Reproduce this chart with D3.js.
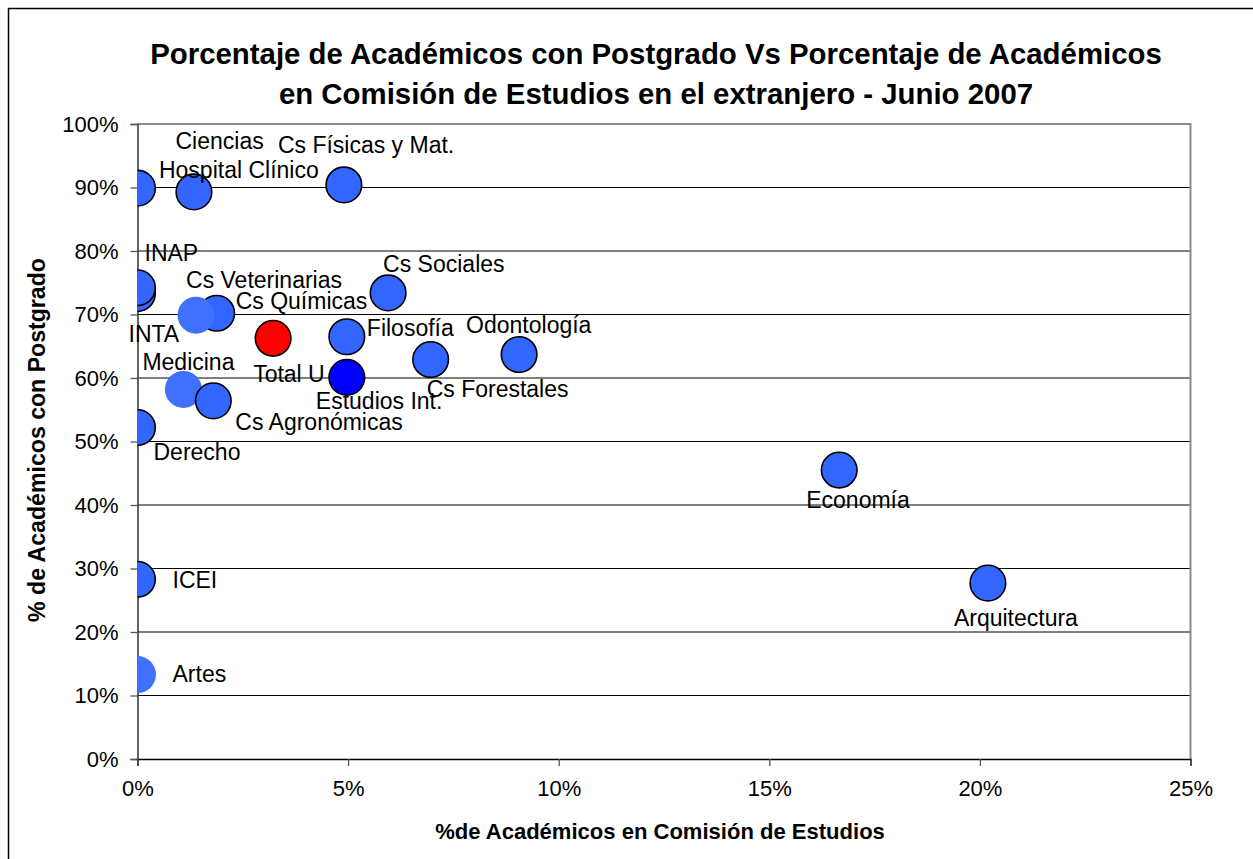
<!DOCTYPE html>
<html><head><meta charset="utf-8">
<script src="https://cdn.jsdelivr.net/npm/d3@7"></script>
<style>
body{margin:0;background:#fff;}
text{font-family:"Liberation Sans",Arial,sans-serif;fill:#000;}
</style>
</head><body>
<svg id="c" width="1253" height="859"></svg>
<script>
// ---------------- DATA ----------------
const names = ["Ciencias","Hospital Clínico","Cs Físicas y Mat.","INTA","INAP","Cs Químicas","Cs Veterinarias",
  "Cs Sociales","Total U","Filosofía","Estudios Int.","Medicina","Cs Agronómicas","Derecho","Cs Forestales",
  "Odontología","Economía","Arquitectura","ICEI","Artes"];
const comisionPct = [0, 0.0134, 0.0490, 0, 0, 0.0188, 0.0139, 0.0595, 0.0322, 0.0497, 0.0497, 0.0109, 0.0180, 0,
  0.0696, 0.0906, 0.1666, 0.2019, 0, 0];
const postgradoPct = [0.899, 0.893, 0.904, 0.733, 0.742, 0.702, 0.699, 0.734, 0.6625, 0.665, 0.601, 0.582, 0.564, 0.522,
  0.629, 0.637, 0.455, 0.277, 0.283, 0.133];
const pointKind = ["u","u","u","u","u","u","light","u","total","u","int","light","u","u","u","u","u","u","u","light"];
const xTickValues = [0, 0.05, 0.10, 0.15, 0.20, 0.25];
const yTickValues = [0, 0.1, 0.2, 0.3, 0.4, 0.5, 0.6, 0.7, 0.8, 0.9, 1.0];
const titleLines = ["Porcentaje de Académicos con Postgrado Vs Porcentaje de Académicos",
  "en Comisión de Estudios en el extranjero - Junio 2007"];
const xAxisTitle = "%de Académicos en Comisión de Estudios";
const yAxisTitle = "% de Académicos con Postgrado";

// ---------------- LAYOUT ----------------
const labelOffset = {
  "Ciencias":[38,-47], "Hospital Clínico":[-35,-22], "Cs Físicas y Mat.":[-66,-40], "INAP":[7,-35],
  "INTA":[-9,40], "Cs Veterinarias":[-10,-35], "Cs Químicas":[19,-13], "Total U":[-20,35],
  "Filosofía":[20,-9], "Estudios Int.":[-31,23], "Medicina":[-41,-28], "Cs Agronómicas":[22,21],
  "Derecho":[16,24], "Cs Sociales":[-5,-29], "Cs Forestales":[-4,29], "Odontología":[-53,-30],
  "Economía":[-33,30], "Arquitectura":[-34,35], "ICEI":[35,0], "Artes":[35,-1]
};
const fills = {u:"#3366FF", light:"#4070FF", total:"#FF0000", int:"#0000FF"};
const strokes = {u:"#000", light:"none", total:"#000", int:"#000"};

const pLeft = 137.5, pRight = 1190.5, pTop = 124, pBottom = 759;
const svg = d3.select("#c");

// outer frame
svg.append("rect").attr("x",8.5).attr("y",8.5).attr("width",1260).attr("height",860)
  .attr("fill","none").attr("stroke","#000").attr("stroke-width",1.5);

const x = d3.scaleLinear().domain([0,0.25]).range([pLeft,pRight]);
const y = d3.scaleLinear().domain([0,1]).range([pBottom,pTop]);

// gridlines
svg.append("g").selectAll("line").data(yTickValues.filter(v=>v>0 && v<1)).join("line")
  .attr("x1",pLeft).attr("x2",pRight).attr("y1",d=>y(d)).attr("y2",d=>y(d))
  .attr("stroke","#000").attr("stroke-width",1.2);

// plot border top / right (gray)
svg.append("path").attr("d",`M${pLeft},${pTop}H${pRight}V${pBottom}`).attr("fill","none")
  .attr("stroke","#8c8c8c").attr("stroke-width",2);

// axes
const fmt = d3.format(".0%");
const yAxis = svg.append("g").attr("transform",`translate(${pLeft},0)`)
  .call(d3.axisLeft(y).tickValues(yTickValues).tickFormat(fmt).tickSize(7).tickPadding(12));
const xAxis = svg.append("g").attr("transform",`translate(0,${pBottom})`)
  .call(d3.axisBottom(x).tickValues(xTickValues).tickFormat(fmt).tickSize(7).tickPadding(14));
[yAxis,xAxis].forEach(a=>{
  a.select(".domain").attr("stroke","#000").attr("stroke-width",1.5);
  a.selectAll(".tick line").attr("stroke","#555").attr("stroke-width",1.3);
  a.selectAll("text").attr("font-family","Liberation Sans, Arial, sans-serif").attr("font-size",22).attr("fill","#000");
});
yAxis.select(".domain").attr("stroke","#333");

// points
const data = names.map((n,i)=>({name:n, xv:comisionPct[i], yv:postgradoPct[i], kind:pointKind[i]}));
svg.append("clipPath").attr("id","pc").append("rect")
  .attr("x",pLeft).attr("y",pTop-30).attr("width",pRight-pLeft+30).attr("height",pBottom-pTop+30);
svg.append("g").attr("clip-path","url(#pc)").selectAll("circle").data(data).join("circle")
  .attr("cx",d=>x(d.xv)).attr("cy",d=>y(d.yv)).attr("r",d=>d.kind==="light"?18.5:17.8)
  .attr("fill",d=>fills[d.kind]).attr("stroke",d=>strokes[d.kind]).attr("stroke-width",1.6);

// labels
svg.append("g").selectAll("text").data(data).join("text")
  .attr("x",d=>x(d.xv)+labelOffset[d.name][0]).attr("y",d=>y(d.yv)+labelOffset[d.name][1])
  .attr("dy","0.36em").attr("font-size",23).text(d=>d.name);

// titles (fit widths)
function fit(sel, target){
  const w = sel.node().getComputedTextLength();
  const fs = parseFloat(sel.attr("font-size"));
  sel.attr("font-size", fs*target/w);
}
const t1 = svg.append("text").attr("x",656).attr("y",53).attr("dy","0.36em").attr("text-anchor","middle")
  .attr("font-weight","bold").attr("font-size",24).text(titleLines[0]);
fit(t1,1012);
svg.append("text").attr("x",656).attr("y",93).attr("dy","0.36em").attr("text-anchor","middle")
  .attr("font-weight","bold").attr("font-size",t1.attr("font-size")).text(titleLines[1]);
const xt = svg.append("text").attr("x",660).attr("y",831).attr("dy","0.36em").attr("text-anchor","middle")
  .attr("font-weight","bold").attr("font-size",20).text(xAxisTitle);
fit(xt,450);
const yt = svg.append("text").attr("transform","translate(37,440) rotate(-90)").attr("dy","0.36em")
  .attr("text-anchor","middle").attr("font-weight","bold").attr("font-size",20).text(yAxisTitle);
fit(yt,364);
</script>
</body></html>
